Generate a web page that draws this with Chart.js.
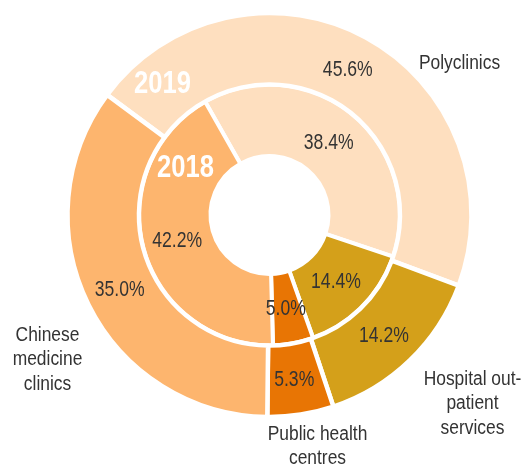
<!DOCTYPE html>
<html>
<head>
<meta charset="utf-8">
<script src="https://cdn.jsdelivr.net/npm/chart.js@4/dist/chart.umd.min.js"></script>
<style>
  body { margin: 0; background: #fff; }
</style>
</head>
<body>
<canvas id="myChart" width="524" height="465"></canvas>
<script>
// categories in clockwise order
const categories = ['Polyclinics', 'Hospital out-patient services', 'Public health centres', 'Chinese medicine clinics']
const values2019 = [45.6, 14.2, 5.3, 35.0]
const values2018 = [38.4, 14.4, 5.0, 42.2]
const yearLabels = ['2019', '2018']

const colors = ['#FEDFBF', '#D4A01A', '#E87504', '#FDB56E']
const fontFamily = "'Liberation Sans', Arial, sans-serif"

// text lines of the outside labels and their offset from the chart centre
const outsideLabels = [
  { lines: ['Polyclinics'], dx: 190, dy: -153 },
  { lines: ['Hospital out-', 'patient', 'services'], dx: 203, dy: 187 },
  { lines: ['Public health', 'centres'], dx: 48, dy: 230 },
  { lines: ['Chinese', 'medicine', 'clinics'], dx: -222, dy: 143 }
]
const yearOffsets = [{ dx: -107, dy: -134 }, { dx: -84, dy: -50 }]

// draws text squeezed horizontally, centred on (x, y) at cap height
function drawText (ctx, text, x, y, size, squeeze) {
  ctx.save()
  ctx.translate(x, y + size * 0.36)
  ctx.scale(squeeze, 1)
  ctx.fillText(text, 0, 0)
  ctx.restore()
}

const labelPlugin = {
  id: 'ringLabels',
  afterDatasetsDraw (chart) {
    const ctx = chart.ctx
    ctx.save()
    ctx.textAlign = 'center'
    ctx.textBaseline = 'alphabetic'

    // percentage inside each slice
    ctx.font = '22px ' + fontFamily
    ctx.fillStyle = '#333333'
    chart.data.datasets.forEach((ds, i) => {
      chart.getDatasetMeta(i).data.forEach((arc, j) => {
        const p = arc.getCenterPoint()
        drawText(ctx, ds.data[j].toFixed(1) + '%', p.x - 1, p.y - 1, 22, 0.8)
      })
    })

    const first = chart.getDatasetMeta(0).data[0]
    const cx = first.x
    const cy = first.y

    // category names outside the rings
    ctx.font = '20px ' + fontFamily
    outsideLabels.forEach(lab => {
      const lh = 24.5
      const top = cy + lab.dy - (lab.lines.length - 1) * lh / 2
      lab.lines.forEach((t, k) => {
        drawText(ctx, t, cx + lab.dx, top + k * lh, 20, 0.87)
      })
    })

    // year names on the rings
    ctx.font = 'bold 32px ' + fontFamily
    ctx.fillStyle = '#ffffff'
    yearLabels.forEach((y, i) => {
      drawText(ctx, y, cx + yearOffsets[i].dx, cy + yearOffsets[i].dy, 32, 0.8)
    })
    ctx.restore()
  }
}

const ctx = document.getElementById('myChart').getContext('2d')
new Chart(ctx, {
  type: 'doughnut',
  data: {
    labels: categories,
    datasets: [
      {
        label: yearLabels[0],
        data: values2019,
        backgroundColor: colors,
        borderColor: '#ffffff',
        borderWidth: 4.5,
        rotation: -53.5,
        weight: 1
      },
      {
        label: yearLabels[1],
        data: values2018,
        backgroundColor: colors,
        borderColor: '#ffffff',
        borderWidth: 4,
        rotation: -29.6,
        weight: 1
      }
    ]
  },
  options: {
    responsive: false,
    animation: false,
    radius: 202,
    cutout: '29.2%',
    layout: {
      padding: { left: 15, right: 0, top: 0, bottom: 35 }
    },
    plugins: {
      legend: { display: false },
      tooltip: { enabled: false }
    }
  },
  plugins: [labelPlugin]
})
</script>
</body>
</html>
